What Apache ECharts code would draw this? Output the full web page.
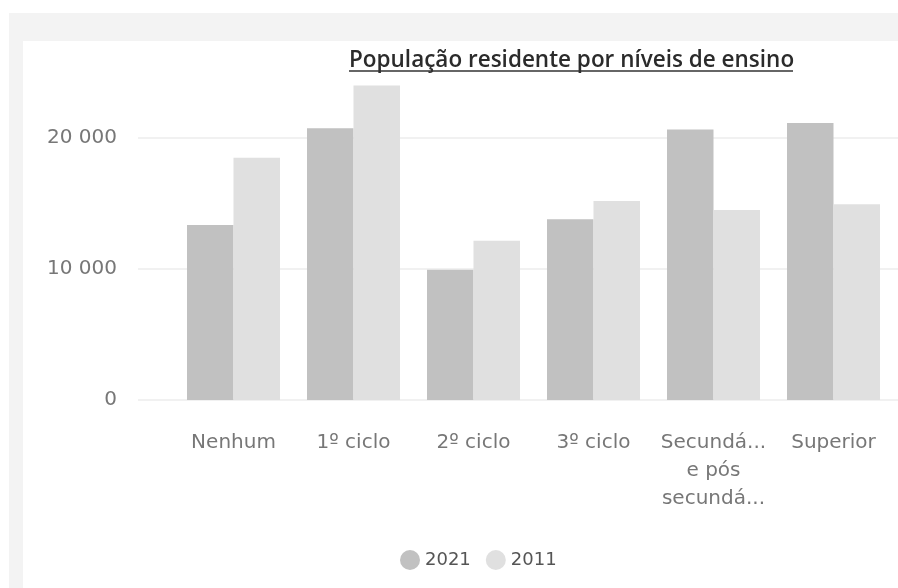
<!DOCTYPE html>
<html><head><meta charset="utf-8">
<script src="https://cdn.jsdelivr.net/npm/echarts@6/dist/echarts.min.js"></script>
<style>html,body{margin:0;padding:0;background:#fff}#c{width:898px;height:588px}</style>
</head><body><div id="c"></div>
<script>
const categories = ['Nenhum', '1º ciclo', '2º ciclo', '3º ciclo', 'Secundá...\ne pós\nsecundá...', 'Superior'];
const series2021 = [13350, 20750, 9950, 13800, 20650, 21150];
const series2011 = [18500, 24000, 12150, 15200, 14500, 14950];
const yTicks = [0, 10000, 20000];
const titleText = 'População residente por níveis de ensino';

const chart = echarts.init(document.getElementById('c'), null, {renderer: 'canvas'});
const fmt = v => String(v).replace(/\B(?=(\d{3})+(?!\d))/g, ' ');
const axisFont = {fontFamily: 'DejaVu Sans', fontSize: 20, color: '#777777'};

chart.setOption({
  backgroundColor: '#ffffff',
  animation: false,
  graphic: [
    {type: 'rect', z: -10, shape: {x: 9, y: 13, width: 900, height: 580}, style: {fill: '#f3f3f3'}},
    {type: 'rect', z: -9, shape: {x: 23, y: 41, width: 880, height: 550}, style: {fill: '#ffffff'}},
    {type: 'line', z: 10, shape: {x1: 349, y1: 71, x2: 793, y2: 71}, style: {stroke: '#333', lineWidth: 1.3}}
  ],
  title: {
    text: titleText, left: 344, top: 44,
    textStyle: {fontFamily: 'Open Sans', fontWeight: 600, fontSize: 22.5, color: '#2b2b2b'}
  },
  legend: {
    top: 545, left: 395, icon: 'circle', itemWidth: 20, itemHeight: 20, itemGap: 15,
    textStyle: {fontFamily: 'DejaVu Sans', fontSize: 18, color: '#555'},
    data: ['2021', '2011']
  },
  grid: [
    {left: 173.5, right: 4.5, top: 72.5, bottom: 188},
    {left: 138, right: 0, top: 138, bottom: 188}
  ],
  xAxis: [
    {type: 'category', gridIndex: 0, data: categories,
     axisLine: {show: false}, axisTick: {show: false},
     axisLabel: Object.assign({interval: 0, margin: 29, lineHeight: 28}, axisFont)},
    {type: 'category', gridIndex: 1, data: [''], show: false}
  ],
  yAxis: [
    {type: 'value', gridIndex: 0, min: 0, max: 25000, show: false, splitLine: {show: false}},
    {type: 'value', gridIndex: 1, min: yTicks[0], max: yTicks[yTicks.length - 1], interval: yTicks[1] - yTicks[0],
     axisLine: {show: false}, axisTick: {show: false},
     axisLabel: Object.assign({margin: 21, formatter: v => fmt(v)}, axisFont),
     splitLine: {lineStyle: {color: '#ececec', width: 1.5}}}
  ],
  series: [
    {name: '2021', type: 'bar', xAxisIndex: 0, yAxisIndex: 0, data: series2021,
     barGap: '0%', barCategoryGap: '22.5%', itemStyle: {color: '#c1c1c1'}},
    {name: '2011', type: 'bar', xAxisIndex: 0, yAxisIndex: 0, data: series2011,
     itemStyle: {color: '#e0e0e0'}}
  ]
});
</script></body></html>
